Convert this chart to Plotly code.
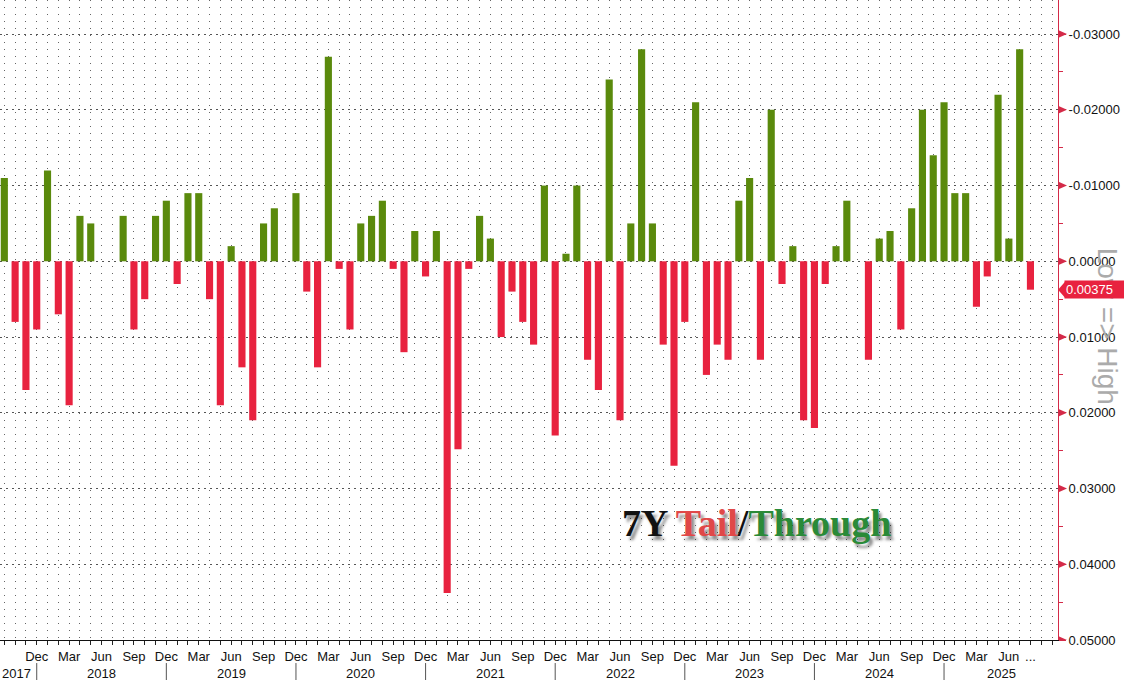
import plotly.graph_objects as go
import pandas as pd

# ---------------- data ----------------
months = pd.period_range("2017-09", "2025-08", freq="M")   # monthly 7Y auctions
# tail (+, red) / stop-through (-, green), in percentage points
values = [
    -0.011, 0.008, 0.017, 0.009,                                   # 2017 Sep-Dec
    -0.012, 0.007, 0.019, -0.006, -0.005, 0.0, 0.0, -0.006, 0.009, 0.005, -0.006, -0.008,   # 2018
    0.003, -0.009, -0.009, 0.005, 0.019, -0.002, 0.014, 0.021, -0.005, -0.007, 0.0, -0.009, # 2019
    0.004, 0.014, -0.027, 0.001, 0.009, -0.005, -0.006, -0.008, 0.001, 0.012, -0.004, 0.002, # 2020
    -0.004, 0.0438, 0.0248, 0.001, -0.006, -0.003, 0.010, 0.004, 0.008, 0.011, -0.010, 0.023, # 2021
    -0.001, -0.010, 0.013, 0.017, -0.024, 0.021, -0.005, -0.028, -0.005, 0.011, 0.027, 0.008, # 2022
    -0.021, 0.015, 0.011, 0.013, -0.008, -0.011, 0.013, -0.020, 0.003, -0.002, 0.021, 0.022, # 2023
    0.003, -0.002, -0.008, 0.0, 0.013, -0.003, -0.004, 0.009, -0.007, -0.020, -0.014, -0.021, # 2024
    -0.009, -0.009, 0.006, 0.002, -0.022, -0.003, -0.028, 0.00375,                            # 2025 Jan-Aug
]
y_ticks = [-0.03, -0.02, -0.01, 0.0, 0.01, 0.02, 0.03, 0.04, 0.05]
y_tick_text = ["-0.03000", "-0.02000", "-0.01000", "0.00000", "0.01000",
               "0.02000", "0.03000", "0.04000", "0.05000"]
title_parts = ["7Y ", "Tail", "/", "Through"]

# ---------------- styles ----------------
RED = "#e8223f"
GREEN = "#5a8a0c"
AXIS_RED = "#d42a48"
FONT = "Liberation Sans"

x_idx = list(range(len(months)))
x_min, x_max = -0.4, 97.55
y_range = [0.05, -0.0345]

colors = [RED if v >= 0 else GREEN for v in values]

fig = go.Figure()
fig.add_trace(go.Bar(x=x_idx, y=values, marker_color=colors, marker_line_width=0,
                     width=0.66, showlegend=False, hoverinfo="skip"))

# month tick labels
tickvals, ticktext = [0], ["..."]
for i, m in enumerate(months):
    if 3 <= i <= 93 and m.month in (3, 6, 9, 12):
        tickvals.append(i)
        ticktext.append(m.strftime("%b"))
tickvals.append(len(months) - 1)
ticktext.append("...")

shapes = []
annotations = []

# year separators and labels
dec_idx = [i for i, m in enumerate(months) if m.month == 12]
edges = [x_min] + dec_idx + [x_max]
for k in range(len(edges) - 1):
    a, b = edges[k], edges[k + 1]
    if k == 0:
        yr = months[0].year
        annotations.append(dict(x=0, xref="paper", xanchor="left", y=-0.053, yref="paper",
                                yanchor="middle", text=str(yr), showarrow=False,
                                font=dict(family=FONT, size=13, color="#111")))
    else:
        yr = months[a].year + 1
        annotations.append(dict(x=(a + b) / 2, xref="x", xanchor="center", y=-0.053, yref="paper",
                                yanchor="middle", text=str(yr), showarrow=False,
                                font=dict(family=FONT, size=13, color="#111")))
for d in dec_idx:
    shapes.append(dict(type="line", xref="x", yref="paper", x0=d, x1=d, y0=-0.036, y1=-0.07,
                       line=dict(color="#555", width=1)))

# triangle markers on the right axis at major ticks
for v in y_ticks:
    shapes.append(dict(type="path", xref="paper", yref="y", xsizemode="pixel", ysizemode="pixel",
                       xanchor=1, yanchor=v, path="M0,-4 L9,0 L0,4 Z",
                       fillcolor=AXIS_RED, line=dict(width=0)))

# Low => High vertical label (drawn beneath the last-value tag)
annotations.append(dict(x=1.047, xref="paper", y=0.0086, yref="y", text="Low => High",
                        textangle=90, showarrow=False, xanchor="center", yanchor="middle",
                        font=dict(family=FONT, size=28, color="#ababab")))

# last value label with pointer
last = values[-1]
shapes.append(dict(type="path", xref="paper", yref="y", xsizemode="pixel", ysizemode="pixel",
                   xanchor=1, yanchor=last, path="M0,0 L7,-8 L7,8 Z",
                   fillcolor=RED, line=dict(width=0)))
annotations.append(dict(x=1, xref="paper", xshift=6, xanchor="left", y=last, yref="y",
                        yanchor="middle", text=f"{last:.5f}&nbsp;&nbsp;&nbsp;", showarrow=False,
                        bgcolor=RED, borderpad=1,
                        font=dict(family=FONT, size=13, color="white")))

# chart title inside plot
title_html = ("<b>" + title_parts[0]
              + f"<span style='color:#e04848'>{title_parts[1]}</span>"
              + title_parts[2]
              + f"<span style='color:#2a8a38'>{title_parts[3]}</span></b>")
annotations.append(dict(x=0.7155, xref="paper", y=0.183, yref="paper", text=title_html,
                        showarrow=False, xanchor="center", yanchor="middle",
                        font=dict(family="Liberation Serif", size=38, color="#111",
                                  shadow="3px 4px 3px rgba(0,0,0,0.45)")))

fig.update_layout(
    width=1124, height=680,
    margin=dict(l=0, r=66, t=0, b=40),
    paper_bgcolor="white", plot_bgcolor="white",
    bargap=0.3,
    shapes=shapes, annotations=annotations,
    xaxis=dict(range=[x_min, x_max], tickmode="array", tickvals=tickvals, ticktext=ticktext,
               ticks="outside", ticklen=4, tickcolor="#222", showline=True, linecolor="#111",
               linewidth=1, showgrid=True, gridcolor="#666", griddash="1px,6px", gridwidth=1,
               zeroline=False, tickfont=dict(family=FONT, size=13, color="#111"),
               minor=dict(tick0=0, dtick=1, ticks="outside", ticklen=4, tickcolor="#222",
                          showgrid=True, gridcolor="#666", griddash="1px,6px", gridwidth=1)),
    yaxis=dict(side="right", range=y_range, tickmode="array", tickvals=y_ticks,
               ticktext=y_tick_text, ticks="outside", ticklen=7, tickcolor=AXIS_RED,
               showline=True, linecolor=AXIS_RED, linewidth=1, showgrid=True,
               gridcolor="#555", griddash="2px,4px", gridwidth=1, zeroline=False,
               tickfont=dict(family=FONT, size=13, color="#111"),
               minor=dict(tick0=0, dtick=0.005, ticks="outside", ticklen=4,
                          tickcolor=AXIS_RED, showgrid=False)),
)

fig.write_html("out.html", config={"displayModeBar": False},
               post_script="document.body.style.margin='0';document.body.style.overflow='hidden';")
